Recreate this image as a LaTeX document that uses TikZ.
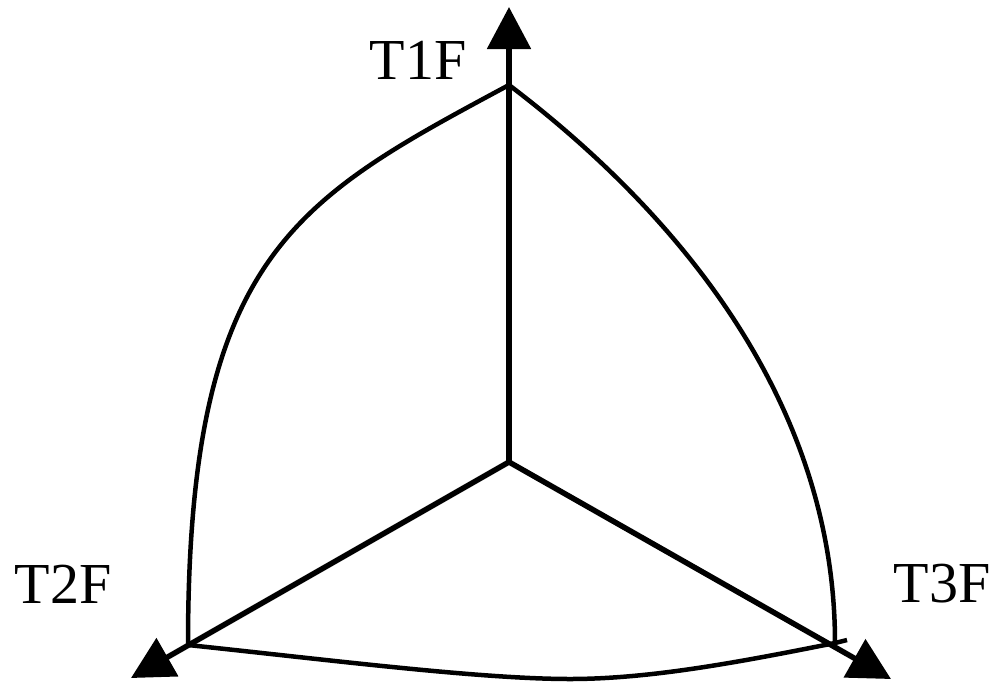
\documentclass[tikz,border=0pt]{standalone}
\usepackage{fontspec}
\setmainfont{Liberation Serif}
\usetikzlibrary{arrows.meta}
\begin{document}
\begin{tikzpicture}[x=1pt,y=-1pt,
  axisline/.style={line width=5.5pt,-{Triangle[length=42pt,width=43pt]}},
  curveline/.style={line width=4.5pt},
  lbl/.style={font=\fontsize{58}{58}\selectfont,inner sep=0pt,anchor=center}]
\useasboundingbox (0,0) rectangle (1002,681);
\coordinate (O) at (509,462);
\coordinate (A) at (509,85);
\coordinate (B) at (188,645);
\coordinate (C) at (835,643);
\coordinate (M) at (570,679);
\coordinate (E) at (847,640);
\coordinate (TA) at (509,7);
\coordinate (TB) at (131,678);
\coordinate (TC) at (891,679);
% curves
\draw[curveline] (A) .. controls (295,200) and (188,255) .. (B);
\draw[curveline] (A) .. controls (700,230) and (835,420) .. (C);
\draw[curveline] (B) .. controls (330,660) and (480,679) .. (M)
                     .. controls (650,679) and (740,662) .. (C) -- (E);
% axes
\draw[axisline] (O) -- (TA);
\draw[axisline] (O) -- (TB);
\draw[axisline] (O) -- (TC);
% labels
\node[lbl] (L1) at (418,60) {T1F};
\node[lbl] (L2) at (63,584) {T2F};
\node[lbl] (L3) at (942,584) {T3F};
\end{tikzpicture}
\end{document}
